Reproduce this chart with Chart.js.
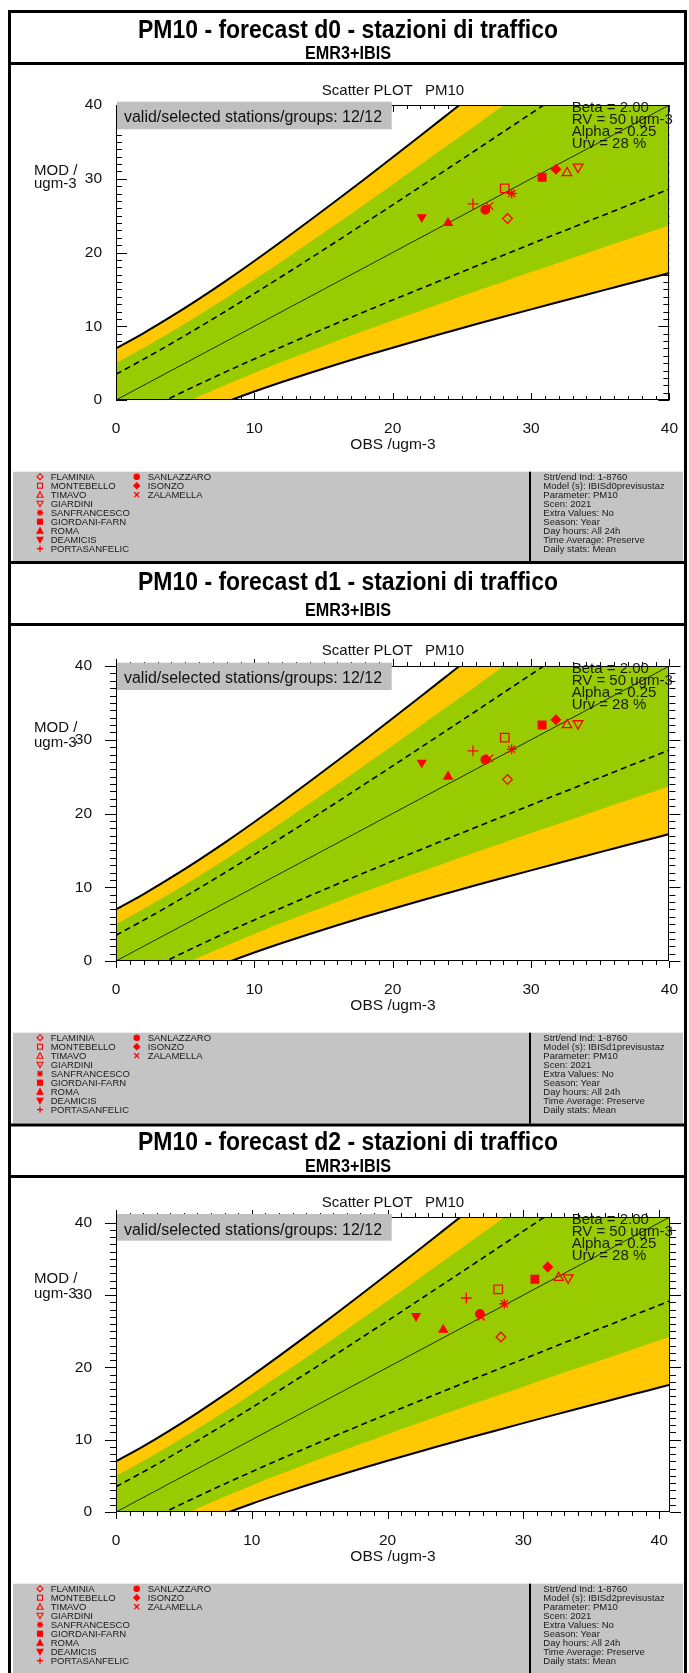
<!DOCTYPE html>
<html><head><meta charset="utf-8">
<script src="https://cdn.jsdelivr.net/npm/chart.js@4.4.1/dist/chart.umd.min.js"></script>
<style>
html,body{margin:0;padding:0;background:#fff;}
#root{position:relative;width:689px;height:1673px;overflow:hidden;background:#fff;}
#root canvas{position:absolute;left:0;}
#ov{position:absolute;left:0;top:0;pointer-events:none;}
</style></head><body><div id="root">
<canvas id="c0"></canvas><canvas id="c1"></canvas><canvas id="c2"></canvas>
<svg id="ov" width="689" height="1673" xmlns="http://www.w3.org/2000/svg"></svg>
</div>
<script>
// ---------------- DATA ----------------
const STATIONS = ['FLAMINIA','MONTEBELLO','TIMAVO','GIARDINI','SANFRANCESCO','GIORDANI-FARN','ROMA','DEAMICIS','PORTASANFELIC','SANLAZZARO','ISONZO','ZALAMELLA'];
const OBS_D0 = [28.3, 28.1, 32.6, 33.4, 28.6, 30.8, 24.0, 22.1, 25.8, 26.7, 31.8, 27.0];
const MOD_D0 = [24.6, 28.7, 30.8, 31.6, 28.0, 30.2, 24.0, 24.8, 26.6, 25.8, 31.3, 26.3];
const OBS_D1 = [28.3, 28.1, 32.6, 33.4, 28.6, 30.8, 24.0, 22.1, 25.8, 26.7, 31.8, 27.0];
const MOD_D1 = [24.6, 30.3, 32.0, 32.2, 28.7, 32.0, 25.0, 26.9, 28.5, 27.3, 32.7, 27.5];
const OBS_D2 = [28.35, 28.15, 32.6, 33.3, 28.6, 30.85, 24.1, 22.1, 25.8, 26.8, 31.8, 26.9];
const MOD_D2 = [24.2, 30.8, 32.4, 32.4, 28.8, 32.2, 25.2, 27.1, 29.6, 27.4, 33.9, 27.0];

// limit curves (obs value -> model value)
const CURVE_OBS = [0,2,4,6,8,10,12,14,16,18,20,22,24,26,28,30,32,34,36,38,40,42];
const LIMIT_UP = [7.0,9.08,11.33,13.72,16.23,18.85,21.56,24.33,27.15,30.01,32.91,35.83,38.78,41.74,44.72,47.71,50.71,53.72,56.74,59.76,62.79,65.82];
const GREEN_UP = [5.01,7.07,9.24,11.52,13.89,16.33,18.83,21.38,23.97,26.59,29.23,31.89,34.56,37.25,39.95,42.66,45.38,48.10,50.83,53.56,56.29,59.03];
const UNC_UP   = [3.5,5.54,7.66,9.86,12.12,14.43,16.78,19.16,21.57,24.01,26.45,28.92,31.39,33.87,36.36,38.85,41.36,43.86,46.37,48.88,51.40,53.91];
const UNC_LO   = [-3.5,-1.54,0.34,2.14,3.88,5.57,7.22,8.84,10.43,12.0,13.55,15.09,16.61,18.13,19.64,21.15,22.65,24.14,25.63,27.12,28.61,30.09];
const GREEN_LO = [-5.01,-3.07,-1.24,0.48,2.11,3.67,5.17,6.62,8.03,9.41,10.77,12.11,13.44,14.75,16.05,17.34,18.62,19.90,21.17,22.44,23.71,24.97];
const LIMIT_LO = [-7.0,-5.08,-3.33,-1.72,-0.23,1.15,2.44,3.67,4.85,5.99,7.09,8.17,9.22,10.26,11.28,12.29,13.29,14.28,15.26,16.24,17.21,18.18];
const DIAG_X = [0, 42];
const DIAG_Y = [0, 42];

const X_TICKS = [0, 10, 20, 30, 40];
const Y_TICKS = [0, 10, 20, 30, 40];
const AXIS_MAX = [40, 40, 40.8];

const TITLES = ['PM10 - forecast d0 - stazioni di traffico','PM10 - forecast d1 - stazioni di traffico','PM10 - forecast d2 - stazioni di traffico'];
const SUBTITLE = 'EMR3+IBIS';
const PLOT_TITLE = 'Scatter PLOT   PM10';
const BOX_TEXT = 'valid/selected stations/groups: 12/12';
const PARAM_TEXT = ['Beta = 2.00','RV = 50 ugm-3','Alpha = 0.25','Urv = 28 %'];
const MODELS = ['IBISd0previsustaz','IBISd1previsustaz','IBISd2previsustaz'];
const INFO_TEXT = m => ['Strt/end Ind: 1-8760','Model (s): ' + m,'Parameter: PM10','Scen: 2021','Extra Values: No','Season: Year','Day hours: All 24h','Time Average: Preserve','Daily stats: Mean'];

// ---------------- STYLE ----------------
const FONT = "'Liberation Sans', Arial, Helvetica, sans-serif";
const RED = '#ff0000';
const GREEN = '#99cc00';
const YELLOW = '#ffc800';
const MARKERS = [
  {style:'rectRot', r:4.8, fill:false, rot:0},
  {style:'rect', r:6.0, fill:false, rot:0},
  {style:'triangle', r:5.4, fill:false, rot:0},
  {style:'triangle', r:5.6, fill:false, rot:180},
  {style:'star', r:5.0, fill:false, rot:0},
  {style:'rect', r:5.4, fill:true, rot:0},
  {style:'triangle', r:4.8, fill:true, rot:0},
  {style:'triangle', r:4.6, fill:true, rot:180},
  {style:'cross', r:5.4, fill:false, rot:0},
  {style:'circle', r:4.3, fill:true, rot:0},
  {style:'rectRot', r:4.6, fill:true, rot:0},
  {style:'crossRot', r:5.2, fill:false, rot:0}
];

const PANELS = [
  {obs:OBS_D0, mod:MOD_D0, max:AXIS_MAX[0], inward:true,  plotTop:105,  plotBottom:400,  yPad:6,  xPad:11,
   frame:10, header:62, titleY:37.5, subY:58.6, scatY:94.5, boxTop:101.7, boxBot:129.3, boxY:121.7,
   paramY:112.3, modY:175, ugmY:188, obsY:449, legTop:471.7, legBot:561},
  {obs:OBS_D1, mod:MOD_D1, max:AXIS_MAX[1], inward:false, plotTop:666,  plotBottom:961,  yPad:16, xPad:11,
   frame:561, header:623, titleY:590, subY:616, scatY:655, boxTop:662.7, boxBot:690, boxY:682.7,
   paramY:673.3, modY:731.7, ugmY:746.7, obsY:1010, legTop:1032.7, legBot:1123.5},
  {obs:OBS_D2, mod:MOD_D2, max:AXIS_MAX[2], inward:false, plotTop:1217, plotBottom:1512, yPad:16, xPad:11,
   frame:1123.5, header:1175, titleY:1150, subY:1172.3, scatY:1207, boxTop:1214, boxBot:1240.7, boxY:1234.5,
   paramY:1224.3, modY:1283.3, ugmY:1298, obsY:1561, legTop:1583.7, legBot:1673}
];

const PLOT_LEFT = 116, PLOT_RIGHT = 670, W = 689;

// ---------------- CHART PLUGIN (ticks + frame) ----------------
const frameTicks = {
  id: 'frameTicks',
  beforeDraw(chart, args, o) {
    const {ctx, chartArea: a, scales: {x, y}} = chart;
    const d = o.inward ? 1 : -1;
    ctx.save(); ctx.strokeStyle = '#000'; ctx.lineWidth = 1; ctx.beginPath();
    for (let v = 0; v <= 40 + 1e-9; v += 1) {
      const major = (v % 10 === 0);
      const lx = major ? 7 : 4, ly = major ? 11 : 6;
      const px = Math.round(x.getPixelForValue(v)) + 0.5;
      ctx.moveTo(px, a.bottom); ctx.lineTo(px, a.bottom - d * lx);
      ctx.moveTo(px, a.top); ctx.lineTo(px, a.top + d * lx);
      const py = Math.round(y.getPixelForValue(v)) + 0.5;
      ctx.moveTo(a.left, py); ctx.lineTo(a.left + d * ly, py);
      ctx.moveTo(a.right, py); ctx.lineTo(a.right - d * ly, py);
    }
    ctx.stroke(); ctx.restore();
  },
  afterDatasetsDraw(chart) {
    const {ctx, chartArea: a} = chart;
    ctx.save(); ctx.strokeStyle = '#000'; ctx.lineWidth = 1;
    ctx.strokeRect(Math.round(a.left) + 0.5, Math.round(a.top) + 0.5, Math.round(a.right - a.left) - 1, Math.round(a.bottom - a.top) - 1);
    ctx.restore();
  }
};

function curve(ys) { return CURVE_OBS.map((x, i) => ({x, y: ys[i]})); }

PANELS.forEach((P, k) => {
  const cv = document.getElementById('c' + k);
  const cTop = P.plotTop - 40;
  const cH = (P.plotBottom - P.plotTop) + 40 + 45;
  cv.width = W; cv.height = cH;
  cv.style.width = W + 'px'; cv.style.height = cH + 'px'; cv.style.top = cTop + 'px';
  const lineBase = {pointRadius: 0, pointHoverRadius: 0, cubicInterpolationMode: 'monotone', clip: 0, fill: false};
  new Chart(cv.getContext('2d'), {
    type: 'line',
    data: {
      datasets: [
        {data: P.obs.map((x, i) => ({x, y: P.mod[i]})), showLine: false, order: 0, clip: false,
         pointStyle: MARKERS.map(m => m.style), pointRadius: MARKERS.map(m => m.r), pointHoverRadius: MARKERS.map(m => m.r),
         pointRotation: MARKERS.map(m => m.rot), pointBackgroundColor: MARKERS.map(m => m.fill ? RED : 'rgba(0,0,0,0)'),
         pointBorderColor: RED, pointBorderWidth: 1.3},
        Object.assign({}, lineBase, {data: DIAG_X.map((x, i) => ({x, y: DIAG_Y[i]})), borderColor: '#000', borderWidth: 0.8, order: 1, cubicInterpolationMode: 'default'}),
        Object.assign({}, lineBase, {data: curve(UNC_UP), borderColor: '#000', borderWidth: 1.6, borderDash: [6, 4], order: 2}),
        Object.assign({}, lineBase, {data: curve(UNC_LO), borderColor: '#000', borderWidth: 1.6, borderDash: [6, 4], order: 2}),
        Object.assign({}, lineBase, {data: curve(GREEN_UP), borderWidth: 0, borderColor: GREEN, backgroundColor: GREEN, fill: '+1', order: 3}),
        Object.assign({}, lineBase, {data: curve(GREEN_LO), borderWidth: 0, borderColor: GREEN, order: 3}),
        Object.assign({}, lineBase, {data: curve(LIMIT_UP), borderWidth: 2, borderColor: '#000', backgroundColor: YELLOW, fill: '+1', order: 4}),
        Object.assign({}, lineBase, {data: curve(LIMIT_LO), borderWidth: 2, borderColor: '#000', order: 4})
      ]
    },
    options: {
      responsive: false, animation: false, devicePixelRatio: 1, events: [],
      layout: {padding: {left: 0, right: W - PLOT_RIGHT, top: 40, bottom: 0}},
      plugins: {legend: {display: false}, tooltip: {enabled: false}, filler: {drawTime: 'beforeDatasetsDraw'},
                frameTicks: {inward: P.inward}},
      scales: {
        x: {type: 'linear', min: 0, max: P.max,
            afterFit: s => { s.height = 45; },
            afterBuildTicks: s => { s.ticks = X_TICKS.map(v => ({value: v})); },
            grid: {display: false}, border: {display: false},
            ticks: {font: {family: FONT, size: 15.5}, color: '#111', padding: P.xPad, maxRotation: 0, autoSkip: false}},
        y: {type: 'linear', min: 0, max: P.max,
            afterFit: s => { s.width = PLOT_LEFT; },
            afterBuildTicks: s => { s.ticks = Y_TICKS.map(v => ({value: v})); },
            grid: {display: false}, border: {display: false},
            ticks: {font: {family: FONT, size: 15.5}, color: '#111', padding: P.yPad, autoSkip: false}}
      }
    },
    plugins: [frameTicks]
  });
});

// ---------------- SVG OVERLAY (frames, titles, legends) ----------------
const NS = 'http://www.w3.org/2000/svg';
const svg = document.getElementById('ov');
function el(tag, attrs, text) {
  const e = document.createElementNS(NS, tag);
  for (const k in attrs) e.setAttribute(k, attrs[k]);
  if (text != null) e.textContent = text;
  svg.appendChild(e); return e;
}
function txt(x, y, s, size, extra) {
  return el('text', Object.assign({x, y, 'font-family': FONT, 'font-size': size, fill: '#111'}, extra || {}), s);
}
function sym(i, cx, cy) {
  const m = MARKERS[i], r = 3;
  const f = m.fill ? RED : 'none';
  const common = {stroke: RED, 'stroke-width': 1.1, fill: f};
  if (m.style === 'rectRot') el('polygon', Object.assign({points: `${cx},${cy-r} ${cx+r},${cy} ${cx},${cy+r} ${cx-r},${cy}`}, common));
  else if (m.style === 'rect') el('rect', Object.assign({x: cx-2.5, y: cy-2.5, width: 5, height: 5}, common));
  else if (m.style === 'triangle') {
    const pts = m.rot ? `${cx-3},${cy-2.5} ${cx+3},${cy-2.5} ${cx},${cy+3}` : `${cx-3},${cy+2.5} ${cx+3},${cy+2.5} ${cx},${cy-3}`;
    el('polygon', Object.assign({points: pts}, common));
  }
  else if (m.style === 'circle') el('circle', Object.assign({cx, cy, r: 2.7}, common));
  else {
    let d = '';
    if (m.style === 'cross' || m.style === 'star') d += `M${cx-3},${cy}H${cx+3}M${cx},${cy-3}V${cy+3}`;
    if (m.style === 'crossRot' || m.style === 'star') d += `M${cx-2.4},${cy-2.4}L${cx+2.4},${cy+2.4}M${cx-2.4},${cy+2.4}L${cx+2.4},${cy-2.4}`;
    el('path', {d, stroke: RED, 'stroke-width': 1.3, fill: 'none'});
  }
}

// outer frame
el('rect', {x: 8, y: 10, width: 3, height: 1663, fill: '#000'});
el('rect', {x: 684, y: 10, width: 3, height: 1663, fill: '#000'});

PANELS.forEach((P, k) => {
  const cx = 348, pcx = (PLOT_LEFT + PLOT_RIGHT) / 2;
  el('rect', {x: 8, y: P.frame, width: 679, height: 3, fill: '#000'});
  el('rect', {x: 8, y: P.header, width: 679, height: 3, fill: '#000'});
  txt(cx, P.titleY, TITLES[k], 25, {'font-weight': 'bold', 'text-anchor': 'middle', textLength: 420, lengthAdjust: 'spacingAndGlyphs', fill: '#000'});
  txt(cx, P.subY, SUBTITLE, 17.5, {'font-weight': 'bold', 'text-anchor': 'middle', textLength: 86, lengthAdjust: 'spacingAndGlyphs', fill: '#000'});
  txt(pcx, P.scatY, PLOT_TITLE, 15, {'text-anchor': 'middle', 'xml:space': 'preserve', style: 'white-space:pre'});
  // stations box
  el('rect', {x: 117, y: P.boxTop, width: 274.7, height: P.boxBot - P.boxTop, fill: '#bfbfbf'});
  txt(124, P.boxY, BOX_TEXT, 16, {textLength: 258, lengthAdjust: 'spacingAndGlyphs'});
  // parameters
  PARAM_TEXT.forEach((s, j) => txt(571.7, P.paramY + 12 * j, s, 15, {fill: '#1a1a1a'}));
  // axis titles
  txt(34, P.modY, 'MOD /', 15);
  txt(34, P.ugmY, 'ugm-3', 15);
  txt(pcx, P.obsY, 'OBS /ugm-3', 15.5, {'text-anchor': 'middle'});
  // legend area
  el('rect', {x: 13, y: P.legTop, width: 670, height: P.legBot - P.legTop, fill: '#c4c4c4'});
  el('rect', {x: 529, y: P.legTop, width: 2, height: P.legBot - P.legTop, fill: '#000'});
  const base = P.legTop + 8.3;
  STATIONS.forEach((s, i) => {
    const col = i < 9 ? 0 : 1, row = i < 9 ? i : i - 9;
    const y = base + 9 * row;
    sym(i, col ? 136.7 : 40, y - 3.3);
    txt(col ? 147.7 : 50.7, y, s, 9.5, {fill: '#1a1a1a'});
  });
  INFO_TEXT(MODELS[k]).forEach((s, j) => txt(543.3, base + 9 * j, s, 9.5, {fill: '#1a1a1a'}));
});
</script>
</body></html>
